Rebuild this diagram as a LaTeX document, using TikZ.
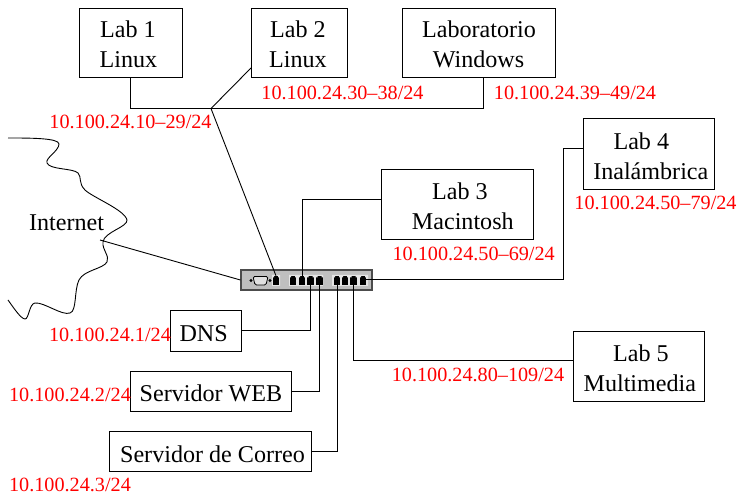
\documentclass[tikz,border=0pt]{standalone}
\usepackage{fontspec}
\setmainfont{Liberation Serif}
\tikzset{
labbox/.style={draw,line width=0.9pt,inner sep=0pt,align=center,font=\fontsize{24.1}{30}\selectfont,execute at begin node={\rule{0pt}{21.5pt}}},
labtwo/.style={labbox,execute at begin node={\rule{0pt}{50.5pt}}},
iplabel/.style={red,inner sep=0pt,font=\fontsize{20.2}{22}\selectfont},
wire/.style={line width=0.9pt},
portjack/.style={fill=black,inner sep=0pt,minimum width=6.5pt,minimum height=9pt}
}
\begin{document}
\begin{tikzpicture}[x=1pt,y=-1pt]
\useasboundingbox (0,0) rectangle (739,494);
% labs on top
\node[labtwo,minimum width=103pt,minimum height=69pt] (lab1) at (130.5,42.5) {\hspace*{-5pt}Lab 1\\\hspace*{-4pt}Linux};
\node[labtwo,minimum width=96pt,minimum height=69pt] (lab2) at (299.5,42.5) {\hspace*{-3pt}Lab 2\\\hspace*{-3pt}Linux};
\node[labtwo,minimum width=153pt,minimum height=69pt] (labw) at (478.5,42.5) {\hspace*{1pt}Laboratorio\\Windows};
\node[labtwo,minimum width=131pt,minimum height=71pt] (lab4) at (649,154) {\hspace*{-15.4pt}Lab 4\\\hspace*{3.6pt}Inal\'ambrica};
\node[labtwo,minimum width=152pt,minimum height=70pt] (lab3) at (457.5,204.5) {\hspace*{5pt}Lab 3\\\hspace*{10.6pt}Macintosh};
\node[labtwo,minimum width=131pt,minimum height=70pt] (lab5) at (639,366) {\hspace*{4pt}Lab 5\\\hspace*{1.6pt}Multimedia};
% servers
\node[labbox,minimum width=71pt,minimum height=41pt] (dns) at (205.5,330.5) {\hspace*{-3.6pt}DNS};
\node[labbox,minimum width=161pt,minimum height=40pt] (web) at (210.5,391) {\hspace*{1pt}Servidor WEB};
\node[labbox,minimum width=202pt,minimum height=40pt] (mail) at (210.5,451.5) {\hspace*{4pt}Servidor de Correo};
\node[font=\fontsize{24.1}{28}\selectfont,inner sep=0pt] (inet) at (66.5,222.5) {Internet};
% switch
\node[draw=black!70,fill=black!25,line width=1.2pt,minimum width=131pt,minimum height=20pt,inner sep=0pt] (sw) at (306.5,280) {};
\fill[black!10] (272,275) rectangle (280,286) (289,275) rectangle (323,286) (332,275) rectangle (368,286);
\draw[fill=black!12,line width=0.8pt,rounded corners=1.5pt] (253,276.5) -- (268,276.5) -- (266,285) -- (255,285) -- cycle;
\fill (251,280.5) circle (1.6pt) (270,280.5) circle (1.6pt);
\foreach \x/\n in {276/a,293/b,302/c,310.5/d,319.5/e,337/f,345/g,353.5/h,363/i}
\node[portjack] (p\n) at (\x,280.5) {};
% notches on the jacks
\foreach \x in {276,293,302,310.5,319.5,337,345,353.5,363}
\fill[black!10] (\x-3.5,275.5) rectangle (\x-2,277.5) (\x+2,275.5) rectangle (\x+3.5,277.5);
% connectors
\coordinate (hub) at (211,108.5);
\coordinate (lab2out) at (251,68);
\coordinate (lab3in) at (381,199.5);
\coordinate (lab4in) at (583.5,148.5);
\coordinate (lab4turn) at (563.5,279.5);
\coordinate (lab5in) at (573.5,360.5);
\coordinate (labwout) at (483.5,77.5);
\coordinate (inetout) at (100,240);
\draw[wire] (lab1.south) |- (hub) -| (labwout);
\draw[wire] (lab2out) -- (hub) -- (pa.north);
\draw[wire] (lab3in) -| (pc.north);
\draw[wire] (lab4in) -| (lab4turn) -- (pi.east |- lab4turn);
\draw[wire] (dns.east) -| (pd.south);
\draw[wire] (web.east) -| (pe.south);
\draw[wire] (mail.east) -| (pf.south);
\draw[wire] (lab5in) -| (ph.south);
\draw[wire] (inetout) -- (sw.west);
% shore line
\draw[wire] (8,138) .. controls (30,138) and (59,138) .. (59,144)
.. controls (59,151) and (45,158) .. (47,163) .. controls (50,170) and (73,168) .. (78,173)
.. controls (82,177) and (78,183) .. (85,190) .. controls (92,197) and (125,210) .. (127,220)
.. controls (128,227) and (104,232) .. (103,242) .. controls (102,250) and (110,256) .. (107,262)
.. controls (103,269) and (84,270) .. (79,280) .. controls (74,290) and (77,311) .. (70,313)
.. controls (62,316) and (44,302) .. (35,303) .. controls (29,304) and (29,319) .. (25,319)
.. controls (21,319) and (13,307) .. (8,300);
% addresses
\node[iplabel] (ip1) at (130.5,122) {10.100.24.10--29/24};
\node[iplabel] (ip2) at (342.5,93) {10.100.24.30--38/24};
\node[iplabel] (ipw) at (575,93) {10.100.24.39--49/24};
\node[iplabel] (ip4) at (655.5,203) {10.100.24.50--79/24};
\node[iplabel] (ip3) at (473.7,254) {10.100.24.50--69/24};
\node[iplabel] (ipd) at (110,335) {10.100.24.1/24};
\node[iplabel] (ipw2) at (70,395) {10.100.24.2/24};
\node[iplabel] (ipm) at (70,484.5) {10.100.24.3/24};
\node[iplabel] (ip5) at (478,374.5) {10.100.24.80--109/24};
\end{tikzpicture}
\end{document}
